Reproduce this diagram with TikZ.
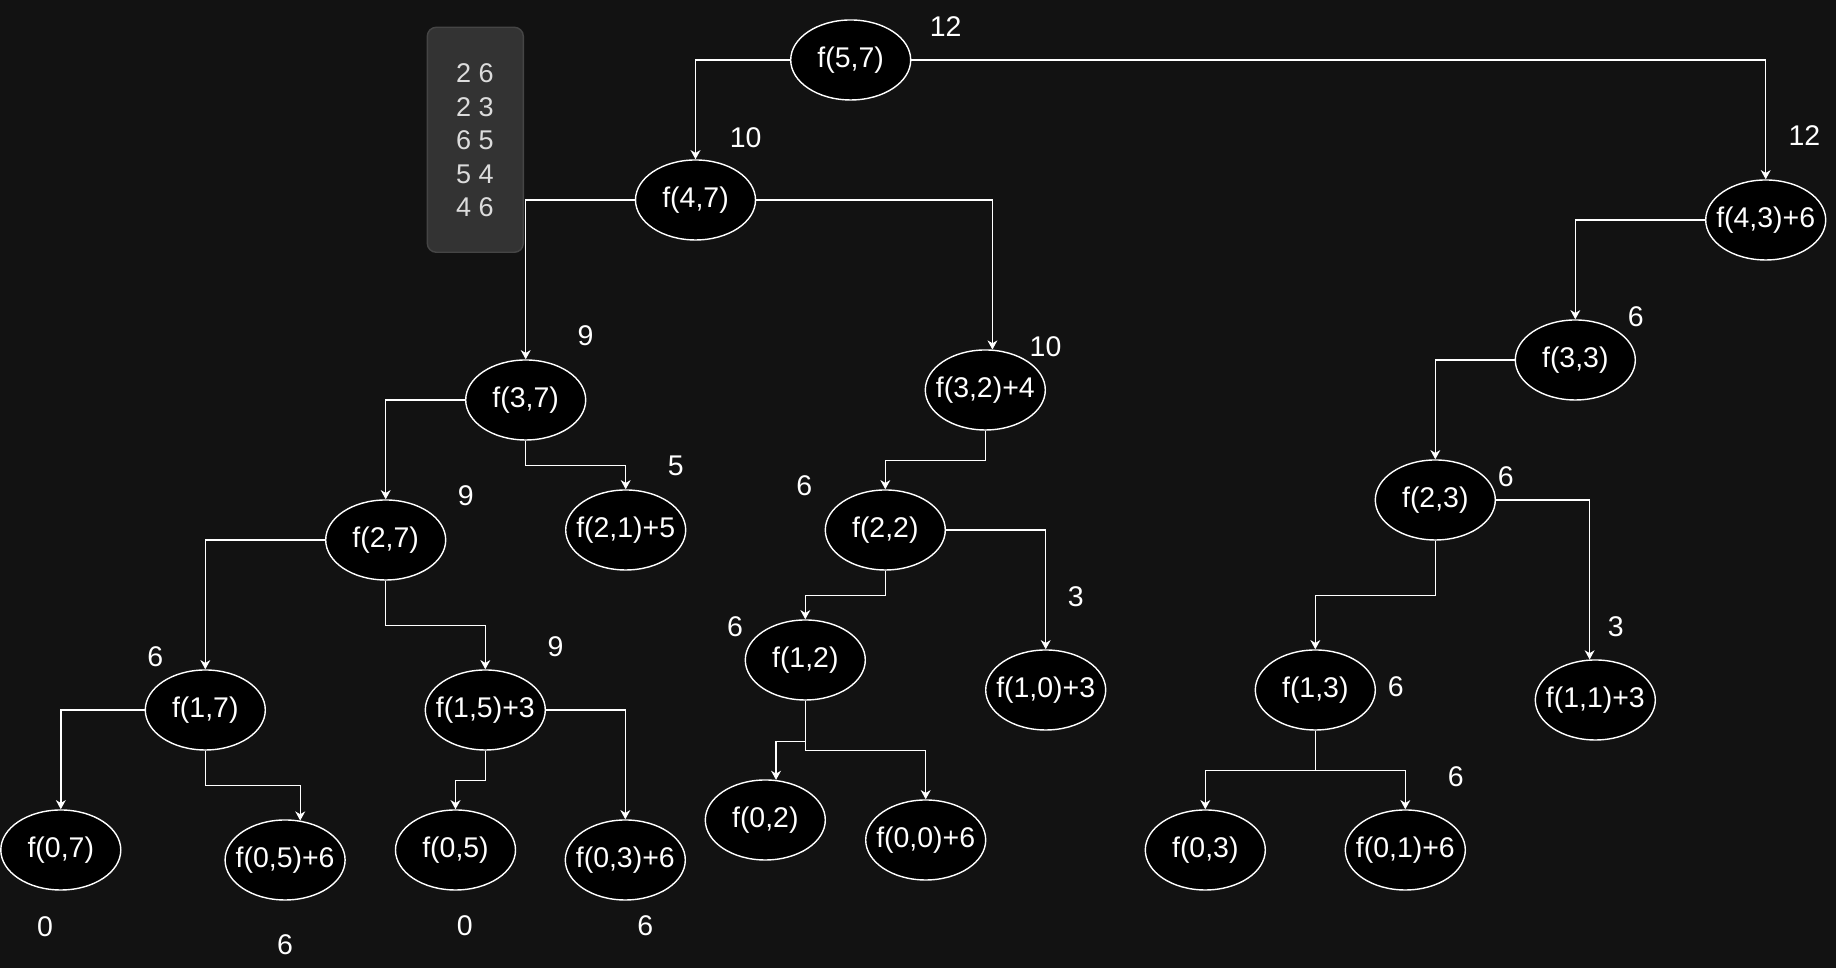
\documentclass[tikz,border=0pt]{standalone}
\usepackage{fontspec}
\setmainfont{Liberation Sans}
\usepackage{tikz}
\usetikzlibrary{shapes.geometric,arrows.meta}
\definecolor{fond_sombre}{HTML}{121212}
\definecolor{gris_boite}{HTML}{333333}
\definecolor{bord_boite}{HTML}{454545}
\definecolor{texte_gris}{HTML}{DCDCDC}

\begin{document}
\begin{tikzpicture}[scale=1,>={Stealth[length=2.6pt,width=2.8pt,inset=0.8pt]},
    etat/.style={ellipse,draw=white,fill=black,text=white,line width=0.4pt,
      minimum width=1.2cm,minimum height=0.8cm,inner xsep=-3pt,
      font=\fontsize{8.1}{9.7}\selectfont},
    valeur/.style={text=white,inner sep=0pt,font=\fontsize{8.1}{9.7}\selectfont},
    objet/.style={text=texte_gris,inner sep=0pt,font=\fontsize{7.7}{9.5}\selectfont},
    lien/.style={->,draw=white,line width=0.4pt}]

    % Fond sombre
    \fill[fond_sombre] (0,0) rectangle (18.36,9.68);
    \useasboundingbox (0,0) rectangle (18.36,9.68);

    % Boite des objets (poids valeur)
    \node[fill=gris_boite,draw=bord_boite,rounded corners=0.09cm,line width=0.4pt,
      minimum width=0.96cm,minimum height=2.25cm,inner sep=0pt] (objets) at (4.753,8.282) {};
    \node[objet] (o1) at (4.75,8.947) {2 6};
    \node[objet] (o2) at (4.75,8.607) {2 3};
    \node[objet] (o3) at (4.75,8.273) {6 5};
    \node[objet] (o4) at (4.75,7.940) {5 4};
    \node[objet] (o5) at (4.75,7.607) {4 6};

    % Les appels f(i,j)
    \node[etat] (f57) at (8.507,9.08) {f(5,7)};
    \node[etat] (f47) at (6.955,7.68) {f(4,7)};
    \node[etat] (f436) at (17.657,7.48) {f(4,3)+6};
    \node[etat] (f37) at (5.257,5.68) {f(3,7)};
    \node[etat] (f324) at (9.853,5.78) {f(3,2)+4};
    \node[etat] (f33) at (15.753,6.08) {f(3,3)};
    \node[etat] (f27) at (3.857,4.28) {f(2,7)};
    \node[etat] (f215) at (6.257,4.38) {f(2,1)+5};
    \node[etat] (f22) at (8.853,4.38) {f(2,2)};
    \node[etat] (f23) at (14.353,4.68) {f(2,3)};
    \node[etat] (f17) at (2.053,2.58) {f(1,7)};
    \node[etat] (f153) at (4.853,2.58) {f(1,5)+3};
    \node[etat] (f12) at (8.053,3.08) {f(1,2)};
    \node[etat] (f103) at (10.457,2.78) {f(1,0)+3};
    \node[etat] (f13) at (13.153,2.78) {f(1,3)};
    \node[etat] (f113) at (15.953,2.68) {f(1,1)+3};
    \node[etat] (f07) at (0.608,1.18) {f(0,7)};
    \node[etat] (f056) at (2.851,1.08) {f(0,5)+6};
    \node[etat] (f05) at (4.555,1.18) {f(0,5)};
    \node[etat] (f036) at (6.253,1.08) {f(0,3)+6};
    \node[etat] (f02) at (7.653,1.48) {f(0,2)};
    \node[etat] (f006) at (9.257,1.28) {f(0,0)+6};
    \node[etat] (f03) at (12.053,1.18) {f(0,3)};
    \node[etat] (f016) at (14.053,1.18) {f(0,1)+6};

    % Valeurs renvoyees
    \node[valeur] (v57) at (9.457,9.413) {12};
    \node[valeur] (v47) at (7.457,8.307) {10};
    \node[valeur] (v436) at (18.044,8.322) {12};
    \node[valeur] (v37) at (5.855,6.32) {9};
    \node[valeur] (v324) at (10.455,6.213) {10};
    \node[valeur] (v33) at (16.357,6.513) {6};
    \node[valeur] (v215) at (6.757,5.02) {5};
    \node[valeur] (v27) at (4.657,4.72) {9};
    \node[valeur] (v22) at (8.044,4.82) {6};
    \node[valeur] (v23) at (15.057,4.913) {6};
    \node[valeur] (v103) at (10.757,3.713) {3};
    \node[valeur] (v113) at (16.157,3.413) {3};
    \node[valeur] (v17) at (1.552,3.113) {6};
    \node[valeur] (v153) at (5.556,3.213) {9};
    \node[valeur] (v12) at (7.35,3.413) {6};
    \node[valeur] (v13) at (13.957,2.813) {6};
    \node[valeur] (v016) at (14.557,1.913) {6};
    \node[valeur] (v07) at (0.45,0.413) {0};
    \node[valeur] (v056) at (2.85,0.237) {6};
    \node[valeur] (v05) at (4.649,0.418) {0};
    \node[valeur] (v036) at (6.452,0.418) {6};

    % Branches de l'arbre
    \draw[lien] (f57.west) -| (f47.north);
    \draw[lien] (f57.east) -| (f436.north);
    \draw[lien] (f47.west) -| (f37.north);
    \draw[lien] (f47.east) -| (f324.80);
    \draw[lien] (f436.west) -| (f33.north);
    \draw[lien] (f37.west) -| (f27.north);
    \draw[lien] (f37.south) -- ++(0,-0.25) -| (f215.north);
    \draw[lien] (f324.south) -- ++(0,-0.3) -| (f22.north);
    \draw[lien] (f33.west) -| (f23.north);
    \draw[lien] (f27.west) -| (f17.north);
    \draw[lien] (f27.south) -- ++(0,-0.45) -| (f153.north);
    \draw[lien] (f22.south) -- ++(0,-0.25) -| (f12.north);
    \draw[lien] (f22.east) -| (f103.north);
    \draw[lien] (f23.south) -- ++(0,-0.55) -| (f13.north);
    \draw[lien] (f23.east) -| (f113.98);
    \draw[lien] (f17.west) -| (f07.north);
    \draw[lien] (f17.south) -- ++(0,-0.35) -| (f056.69);
    \draw[lien] (f153.south) -- ++(0,-0.3) -| (f05.north);
    \draw[lien] (f153.east) -| (f036.north);
    \draw[lien] (f12.south) -- ++(0,-0.41) -| (f02.75);
    \draw[lien] (f12.south) -- ++(0,-0.5) -| (f006.north);
    \draw[lien] (f13.south) -- ++(0,-0.4) -| (f03.north);
    \draw[lien] (f13.south) -- ++(0,-0.4) -| (f016.north);
\end{tikzpicture}
\end{document}
